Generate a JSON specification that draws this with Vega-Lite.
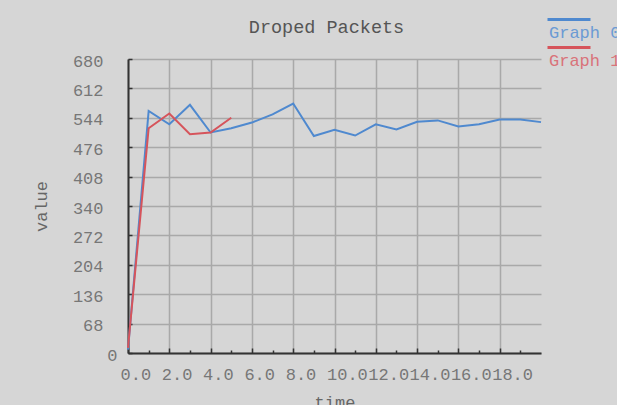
{
  "$schema": "https://vega.github.io/schema/vega-lite/v6.json",
  "width": 413,
  "height": 294,
  "autosize": {"type": "none"},
  "padding": {"left": 128, "top": 59, "right": 76, "bottom": 52},
  "background": "#d6d6d6",
  "title": {
    "text": "Droped Packets",
    "font": "Liberation Mono",
    "fontSize": 18.5,
    "fontWeight": "normal",
    "color": "#555555",
    "anchor": "middle",
    "frame": "group",
    "offset": -12,
    "dx": -8
  },
  "data": {
    "values": [
      {"series": "Graph 0", "time": 0, "value": 8},
      {"series": "Graph 0", "time": 1, "value": 560},
      {"series": "Graph 0", "time": 2, "value": 529},
      {"series": "Graph 0", "time": 3, "value": 574},
      {"series": "Graph 0", "time": 4, "value": 510},
      {"series": "Graph 0", "time": 5, "value": 520},
      {"series": "Graph 0", "time": 6, "value": 533},
      {"series": "Graph 0", "time": 7, "value": 552},
      {"series": "Graph 0", "time": 8, "value": 577},
      {"series": "Graph 0", "time": 9, "value": 502},
      {"series": "Graph 0", "time": 10, "value": 516},
      {"series": "Graph 0", "time": 11, "value": 503},
      {"series": "Graph 0", "time": 12, "value": 529},
      {"series": "Graph 0", "time": 13, "value": 517},
      {"series": "Graph 0", "time": 14, "value": 535},
      {"series": "Graph 0", "time": 15, "value": 538},
      {"series": "Graph 0", "time": 16, "value": 524},
      {"series": "Graph 0", "time": 17, "value": 529},
      {"series": "Graph 0", "time": 18, "value": 540},
      {"series": "Graph 0", "time": 19, "value": 540},
      {"series": "Graph 0", "time": 20, "value": 534},
      {"series": "Graph 1", "time": 0, "value": 12},
      {"series": "Graph 1", "time": 1, "value": 520},
      {"series": "Graph 1", "time": 2, "value": 554},
      {"series": "Graph 1", "time": 3, "value": 506},
      {"series": "Graph 1", "time": 4, "value": 510},
      {"series": "Graph 1", "time": 5, "value": 544}
    ]
  },
  "mark": {"type": "line", "strokeWidth": 2, "clip": false},
  "encoding": {
    "x": {
      "field": "time",
      "type": "quantitative",
      "scale": {"domain": [0, 20], "nice": false},
      "axis": {
        "title": "time",
        "values": [0, 1, 2, 3, 4, 5, 6, 7, 8, 9, 10, 11, 12, 13, 14, 15, 16, 17, 18, 19],
        "labelExpr": "datum.value % 2 == 0 ? format(datum.value, '.1f') : ''",
        "labelAlign": "left",
        "labelOffset": -8,
        "labelPadding": 18,
        "labelOverlap": false,
        "labelFlush": false,
        "labelBound": false,
        "gridOpacity": {"condition": {"test": "datum.value % 2 == 1", "value": 0}, "value": 1},
        "tickSize": {"condition": {"test": "datum.value % 2 == 1", "value": -3}, "value": -5},
        "titleBaseline": "top",
        "titleY": 41
      }
    },
    "y": {
      "field": "value",
      "type": "quantitative",
      "scale": {"domain": [0, 680], "nice": false},
      "axis": {
        "title": "value",
        "values": [0, 68, 136, 204, 272, 340, 408, 476, 544, 612, 680],
        "labelPadding": {"condition": {"test": "datum.value == 0", "value": 15}, "value": 29},
        "labelOffset": 2,
        "tickSize": -4,
        "titleX": -87,
        "titleY": 147,
        "titleBaseline": "middle"
      }
    },
    "color": {
      "field": "series",
      "type": "nominal",
      "scale": {"domain": ["Graph 0", "Graph 1"], "range": ["#4f89cf", "#d6545b"]},
      "legend": {
        "title": null,
        "orient": "none",
        "legendX": 416,
        "legendY": -35,
        "padding": 0,
        "symbolType": "M -1 -2.6 H 7.6",
        "symbolSize": 100,
        "symbolStrokeWidth": 3,
        "labelFont": "Liberation Mono",
        "labelFontSize": 17,
        "labelColor": {"expr": "datum.value == 'Graph 0' ? '#6b9bd4' : '#d9737a'"},
        "labelOffset": -12,
        "rowPadding": 0
      }
    }
  },
  "config": {
    "view": {"stroke": null},
    "axis": {
      "labelFont": "Liberation Mono",
      "labelFontSize": 17,
      "labelColor": "#777777",
      "titleFont": "Liberation Mono",
      "titleFontSize": 17,
      "titleFontWeight": "normal",
      "titleColor": "#666666",
      "gridColor": "#a9a9a9",
      "gridWidth": 1.5,
      "tickColor": "#333333",
      "tickWidth": 1.5,
      "domainColor": "#333333",
      "domainWidth": 2
    }
  }
}
